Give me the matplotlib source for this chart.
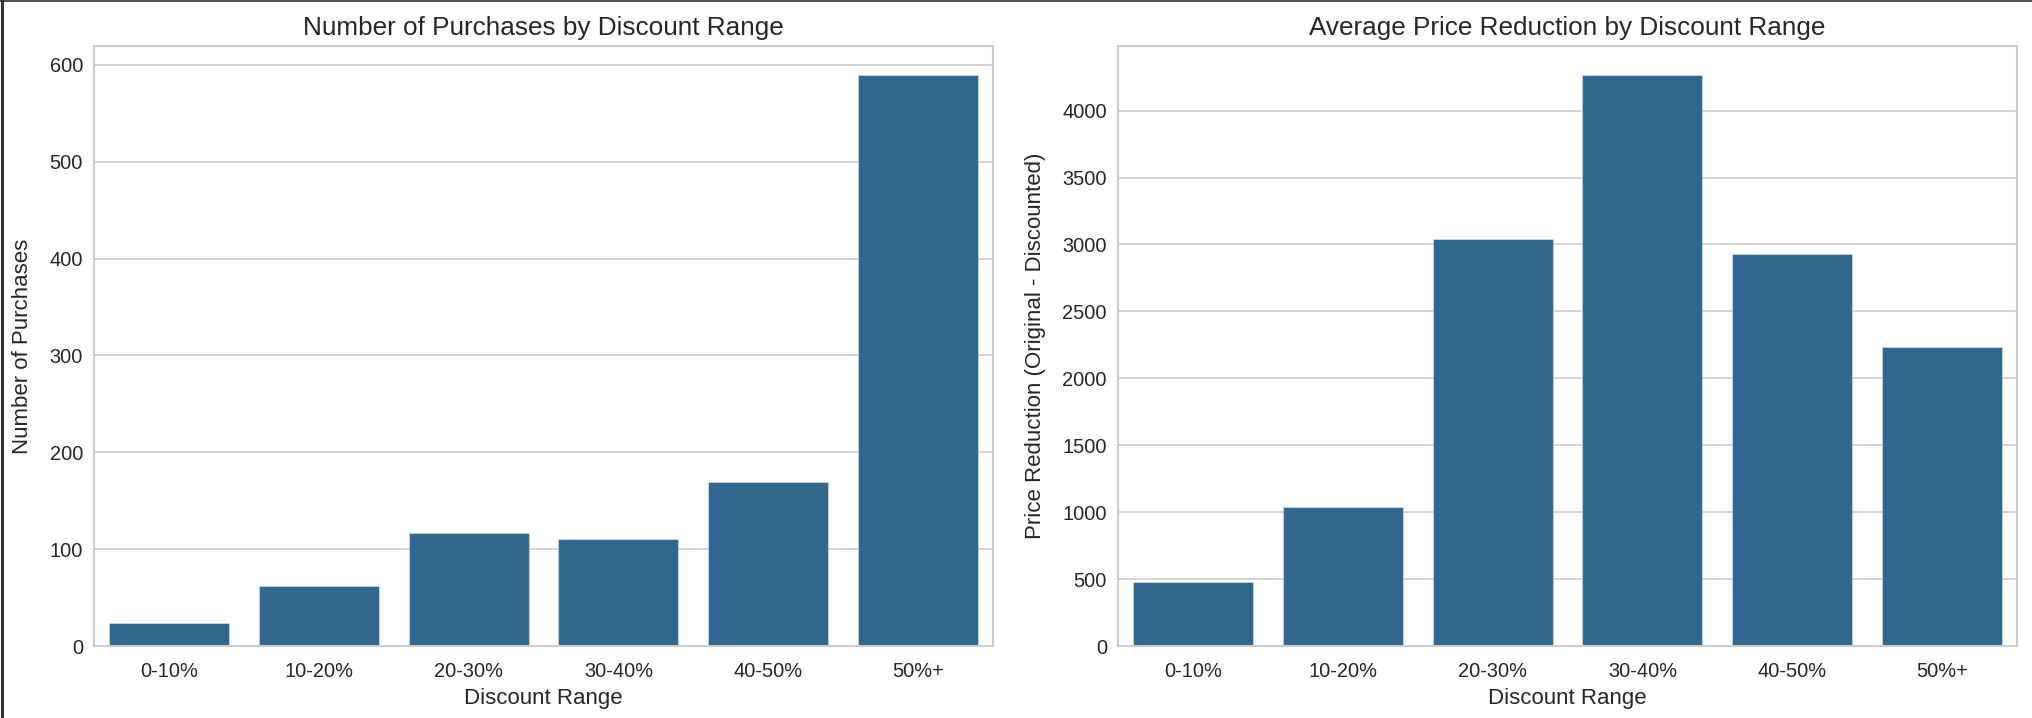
import matplotlib
matplotlib.use("Agg")
import matplotlib.pyplot as plt
import numpy as np

categories = ["0-10%", "10-20%", "20-30%", "30-40%", "40-50%", "50%+"]
purchases = [24, 62, 117, 110, 169, 590]
price_reduction = [481, 1038, 3039, 4269, 2930, 2236]

plt.style.use("seaborn-v0_8-whitegrid")
plt.rcParams["font.family"] = ["Liberation Sans", "DejaVu Sans"]
plt.rcParams["text.color"] = "#262626"
plt.rcParams["axes.labelcolor"] = "#262626"
plt.rcParams["xtick.color"] = "#262626"
plt.rcParams["ytick.color"] = "#262626"

W, H = 2032, 718
fig = plt.figure(figsize=(W / 100, H / 100), dpi=100)

def box(x0, y0, x1, y1):
    return [x0 / W, 1 - y1 / H, (x1 - x0) / W, (y1 - y0) / H]

ax1 = fig.add_axes(box(94, 46, 993, 646))
ax2 = fig.add_axes(box(1118, 46, 2017, 646))

color = "#31688e"
x = np.arange(len(categories))

for ax, vals, title, ylabel in [
    (ax1, purchases, "Number of Purchases by Discount Range", "Number of Purchases"),
    (ax2, price_reduction, "Average Price Reduction by Discount Range", "Price Reduction (Original - Discounted)"),
]:
    ax.bar(x, vals, width=0.8, color=color, edgecolor="#dfe6ec", linewidth=0.4, zorder=2)
    ax.set_xticks(x)
    ax.set_xticklabels(categories)
    ax.set_xlim(-0.5, len(categories) - 0.5)
    ax.margins(y=0.05)
    ax.set_title(title, fontsize=18.8, pad=8)
    ax.set_xlabel("Discount Range", fontsize=16, labelpad=5.3)
    ax.set_ylabel(ylabel, fontsize=16, labelpad=12)
    ax.tick_params(axis="x", labelsize=14.4, length=0, pad=11.3)
    ax.tick_params(axis="y", labelsize=14.4, length=0, pad=8)
    ax.grid(axis="y", color="#cccccc", linewidth=1.2)
    ax.grid(axis="x", visible=False)
    for s in ax.spines.values():
        s.set_color("#cccccc")
        s.set_linewidth(1.5)

ax1.set_yticks([0, 100, 200, 300, 400, 500, 600])
ax2.set_yticks([0, 500, 1000, 1500, 2000, 2500, 3000, 3500, 4000])

# screenshot border on the left and top edges
fig.add_artist(plt.Line2D([1.5 / W, 1.5 / W], [0, 1], color="#333333", linewidth=2.2, transform=fig.transFigure))
fig.add_artist(plt.Line2D([0, 1], [1 - 0.5 / H, 1 - 0.5 / H], color="#333333", linewidth=1.2, transform=fig.transFigure))

fig.savefig("out.png", dpi=100)
